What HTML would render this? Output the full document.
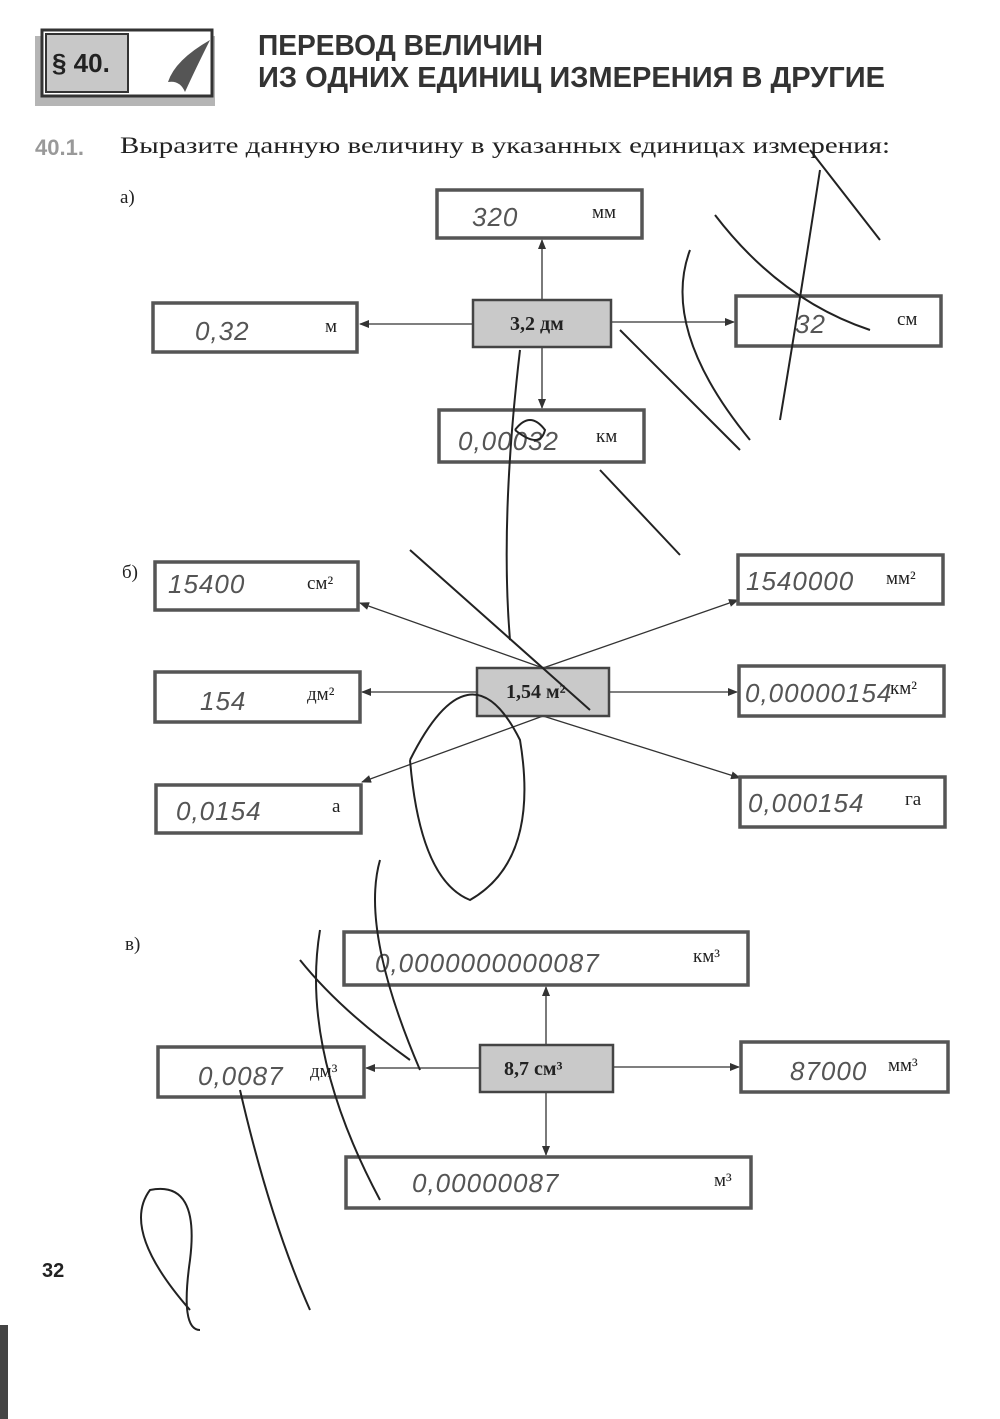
<!DOCTYPE html>
<html><head><meta charset="utf-8"><style>
html,body{margin:0;padding:0;background:#fff;}
svg{display:block}
.b{fill:#fff;stroke:#555;stroke-width:3.5}
.c{fill:#c9c9c9;stroke:#444;stroke-width:2.5}
.u{font-family:"Liberation Serif",serif;font-size:19px;fill:#222}
.h{font-family:"Liberation Sans",sans-serif;font-style:italic;font-size:26px;fill:#555;letter-spacing:1px}
.ln{stroke:#333;stroke-width:1.3;fill:none}
.sc{stroke:#222;stroke-width:2;fill:none}
</style></head><body>
<svg width="1000" height="1419" viewBox="0 0 1000 1419" xmlns="http://www.w3.org/2000/svg">
<defs><marker id="a" markerWidth="10" markerHeight="8" refX="9" refY="4" orient="auto" markerUnits="userSpaceOnUse"><path d="M0,0 L10,4 L0,8 z" fill="#333"/></marker></defs>
<rect x="35" y="36" width="180" height="70" fill="#b5b5b5"/>
<rect x="42" y="30" width="170" height="66" fill="#fff" stroke="#333" stroke-width="3"/>
<rect x="46" y="34" width="82" height="58" fill="#c8c8c8" stroke="#333" stroke-width="2"/>
<text x="52" y="72" font-family="Liberation Sans,sans-serif" font-weight="bold" font-size="26" fill="#222">§ 40.</text>
<path d="M168,82 Q175,60 210,40 Q195,70 185,92 Q180,80 168,82z" fill="#555"/>
<text x="258" y="55" font-family="Liberation Sans,sans-serif" font-weight="bold" font-size="29" fill="#333" textLength="285" lengthAdjust="spacingAndGlyphs">ПЕРЕВОД ВЕЛИЧИН</text>
<text x="258" y="87" font-family="Liberation Sans,sans-serif" font-weight="bold" font-size="29" fill="#333" textLength="627" lengthAdjust="spacingAndGlyphs">ИЗ ОДНИХ ЕДИНИЦ ИЗМЕРЕНИЯ В ДРУГИЕ</text>
<text x="35" y="155" font-family="Liberation Sans,sans-serif" font-weight="bold" font-size="22" fill="#999">40.1.</text>
<text x="120" y="153" font-family="Liberation Serif,serif" font-size="23" fill="#222" textLength="770" lengthAdjust="spacingAndGlyphs">Выразите данную величину в указанных единицах измерения:</text>
<text x="120" y="203" class="u" font-size="20">а)</text>
<text x="122" y="578" class="u" font-size="20">б)</text>
<text x="125" y="950" class="u" font-size="20">в)</text>
<line class="ln" x1="542" y1="300" x2="542" y2="240" marker-end="url(#a)"/>
<line class="ln" x1="542" y1="347" x2="542" y2="408" marker-end="url(#a)"/>
<line class="ln" x1="473" y1="324" x2="360" y2="324" marker-end="url(#a)"/>
<line class="ln" x1="611" y1="322" x2="734" y2="322" marker-end="url(#a)"/>
<rect class="b" x="437" y="190" width="205" height="48"/><text class="h" x="472" y="226">320</text><text class="u" x="592" y="218">мм</text>
<rect class="b" x="153" y="303" width="204" height="49"/><text class="h" x="195" y="340">0,32</text><text class="u" x="325" y="332">м</text>
<rect class="b" x="736" y="296" width="205" height="50"/><text class="h" x="795" y="333">32</text><text class="u" x="897" y="325">см</text>
<rect class="b" x="439" y="410" width="205" height="52"/><text class="h" x="458" y="450">0,00032</text><text class="u" x="596" y="442">км</text>
<rect class="c" x="473" y="300" width="138" height="47"/><text x="510" y="330" font-family="Liberation Serif,serif" font-weight="bold" font-size="20" fill="#222">3,2 дм</text>
<line class="ln" x1="543" y1="668" x2="360" y2="603" marker-end="url(#a)"/>
<line class="ln" x1="543" y1="668" x2="738" y2="600" marker-end="url(#a)"/>
<line class="ln" x1="477" y1="692" x2="362" y2="692" marker-end="url(#a)"/>
<line class="ln" x1="609" y1="692" x2="737" y2="692" marker-end="url(#a)"/>
<line class="ln" x1="543" y1="716" x2="362" y2="782" marker-end="url(#a)"/>
<line class="ln" x1="543" y1="716" x2="740" y2="778" marker-end="url(#a)"/>
<rect class="b" x="155" y="562" width="203" height="48"/><text class="h" x="168" y="593">15400</text><text class="u" x="307" y="589">см²</text>
<rect class="b" x="155" y="672" width="205" height="50"/><text class="h" x="200" y="710">154</text><text class="u" x="307" y="700">дм²</text>
<rect class="b" x="156" y="785" width="205" height="48"/><text class="h" x="176" y="820">0,0154</text><text class="u" x="332" y="812">а</text>
<rect class="b" x="738" y="555" width="205" height="49"/><text class="h" x="746" y="590" font-size="24">1540000</text><text class="u" x="886" y="584">мм²</text>
<rect class="b" x="739" y="666" width="205" height="50"/><text class="h" x="745" y="702" font-size="22">0,00000154</text><text class="u" x="890" y="694">км²</text>
<rect class="b" x="740" y="777" width="205" height="50"/><text class="h" x="748" y="812" font-size="24">0,000154</text><text class="u" x="905" y="805">га</text>
<rect class="c" x="477" y="668" width="132" height="48"/><text x="506" y="698" font-family="Liberation Serif,serif" font-weight="bold" font-size="20" fill="#222">1,54 м²</text>
<line class="ln" x1="546" y1="1045" x2="546" y2="987" marker-end="url(#a)"/>
<line class="ln" x1="546" y1="1092" x2="546" y2="1155" marker-end="url(#a)"/>
<line class="ln" x1="480" y1="1068" x2="366" y2="1068" marker-end="url(#a)"/>
<line class="ln" x1="613" y1="1067" x2="739" y2="1067" marker-end="url(#a)"/>
<rect class="b" x="344" y="932" width="404" height="53"/><text class="h" x="375" y="972">0,0000000000087</text><text class="u" x="693" y="962">км³</text>
<rect class="b" x="158" y="1047" width="206" height="50"/><text class="h" x="198" y="1085">0,0087</text><text class="u" x="310" y="1077">дм³</text>
<rect class="b" x="741" y="1042" width="207" height="50"/><text class="h" x="790" y="1080">87000</text><text class="u" x="888" y="1071">мм³</text>
<rect class="b" x="346" y="1157" width="405" height="51"/><text class="h" x="412" y="1192">0,00000087</text><text class="u" x="714" y="1186">м³</text>
<rect class="c" x="480" y="1045" width="133" height="47"/><text x="504" y="1075" font-family="Liberation Serif,serif" font-weight="bold" font-size="20" fill="#222">8,7 см³</text>
<text x="42" y="1277" font-family="Liberation Sans,sans-serif" font-weight="bold" font-size="20" fill="#222">32</text>
<rect x="0" y="1325" width="8" height="94" fill="#444"/>
<path class="sc" d="M810,150 L880,240 M820,170 Q800,300 780,420 M715,215 Q780,300 870,330 M690,250 Q660,330 750,440"/>
<path class="sc" d="M620,330 L740,450 M600,470 L680,555 M520,350 Q500,520 510,640 M410,550 L590,710 M515,430 Q530,410 545,430 Q540,450 515,430"/>
<path class="sc" d="M410,760 Q470,640 520,740 Q540,860 470,900 Q420,880 410,760"/>
<path class="sc" d="M380,860 Q360,930 420,1070 M300,960 Q340,1010 410,1060 M320,930 Q300,1050 380,1200 M240,1090 Q270,1220 310,1310"/>
<path class="sc" d="M190,1310 Q120,1230 150,1190 Q200,1180 190,1260 Q180,1330 200,1330"/>
</svg>
</body></html>
